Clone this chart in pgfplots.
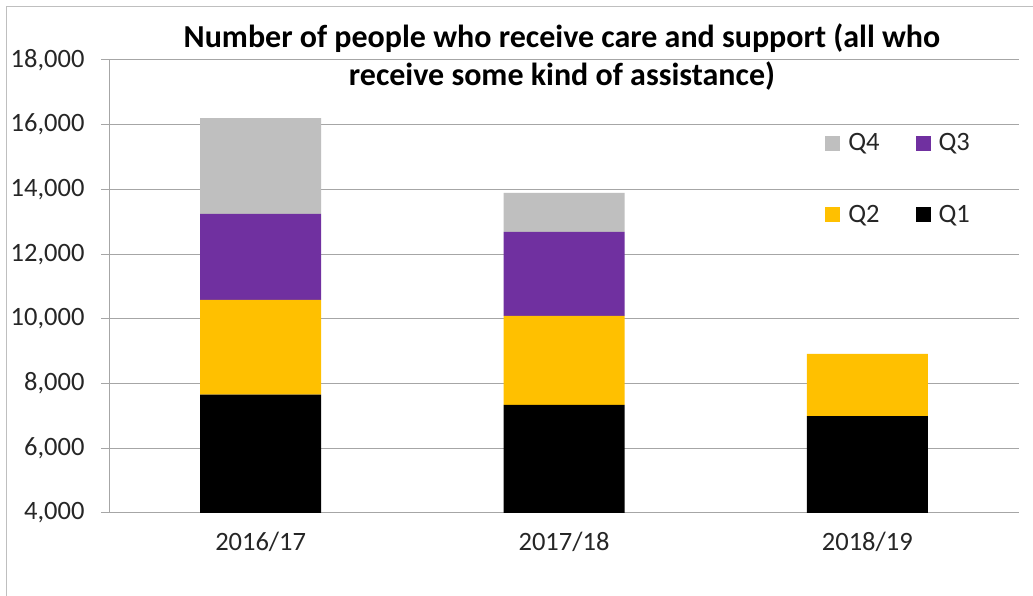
\documentclass[border=0pt]{standalone}
\usepackage{fontspec}
\setmainfont{Carlito}
\usepackage{pgfplots}
\pgfplotsset{compat=1.18}
\definecolor{qone}{HTML}{000000}
\definecolor{qtwo}{HTML}{FFC000}
\definecolor{qthree}{HTML}{7030A0}
\definecolor{qfour}{HTML}{BFBFBF}
\definecolor{gridc}{HTML}{A6A6A6}
\definecolor{txt}{HTML}{262626}
\begin{document}
\begin{tikzpicture}[x=1pt,y=1pt]
\path[use as bounding box, fill=white] (0,0) rectangle (1033,596);
\draw[gray!50, line width=1pt] (6.5,0) -- (6.5,589) -- (1033,589);
\begin{axis}[
  at={(109pt,83pt)}, anchor=south west,
  scale only axis, width=910pt, height=453pt,
  ybar stacked, bar width=121pt,
  xmin=-0.5, xmax=2.5,
  ymin=4000, ymax=18000,
  ytick={4000,6000,...,18000},
  scaled y ticks=false,
  xtick={0,1,2},
  xticklabels={2016/17,2017/18,2018/19},
  x tick style={draw=none},
  extra x ticks={0.5,1.5,2.5},
  extra x tick labels={},
  extra x tick style={tick style={draw=gridc, line width=1pt}, major tick length=8pt, tick align=outside, grid=none},
  axis x line*=bottom, axis y line*=left,
  axis line style={gridc, line width=1pt},
  y tick style={gridc, line width=1pt},
  tick align=outside, major tick length=8pt,
  ymajorgrids, grid style={gridc, line width=1pt},
  /pgf/number format/assume math mode=true,
  /pgf/number format/fixed,
  /pgf/number format/1000 sep={,},
  tick label style={font=\fontsize{26.5}{30}\selectfont, text=txt},
  yticklabel style={xshift=-13pt},
  xticklabel style={yshift=-8pt},
  reverse legend,
  legend columns=2,
  legend style={draw=none, fill=none, at={(0.787,0.842)}, anchor=north west,
    font=\fontsize{26.5}{30}\selectfont, text=txt,
    /tikz/every odd column/.append style={column sep=6pt},
    /tikz/every even column/.append style={column sep=34pt},
    row sep=49pt, inner sep=0pt},
  legend image code/.code={\fill[#1, draw=none] (0pt,-7.5pt) rectangle (15pt,7.5pt);},
]
\addplot[fill=qone, draw=none] coordinates {(0,7655) (1,7340) (2,6990)};
\addplot[fill=qtwo, draw=none] coordinates {(0,2930) (1,2750) (2,1925)};
\addplot[fill=qthree, draw=none] coordinates {(0,2660) (1,2595) (2,0)};
\addplot[fill=qfour, draw=none] coordinates {(0,2955) (1,1205) (2,0)};
\legend{Q1,Q2,Q3,Q4}
\end{axis}
\node[align=center, font=\bfseries\fontsize{32}{38}\selectfont] at (562,539) {Number of people who receive care and support (all who\\receive some kind of assistance)};
\end{tikzpicture}
\end{document}
